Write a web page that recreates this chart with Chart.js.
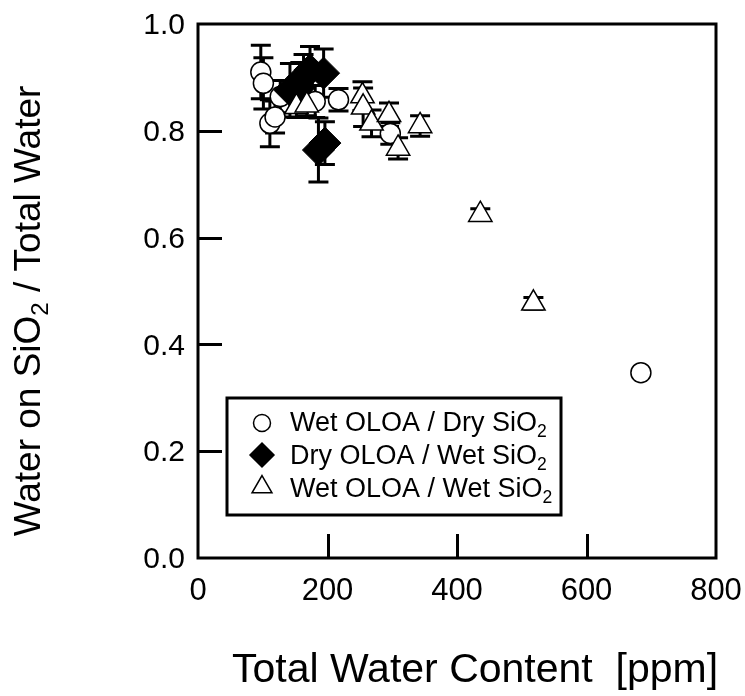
<!DOCTYPE html>
<html>
<head>
<meta charset="utf-8">
<script src="https://cdn.jsdelivr.net/npm/chart.js@4.4.0/dist/chart.umd.min.js"></script>
<style>
  html, body { margin: 0; padding: 0; background: #fff; }
  #wrap { width: 745px; height: 696px; }
</style>
</head>
<body>
<div id="wrap"><canvas id="c" width="745" height="696"></canvas></div>
<script>
// Axis ticks
const xTicks = [0, 200, 400, 600, 800];
const yTicks = [0.0, 0.2, 0.4, 0.6, 0.8, 1.0];

// Wet OLOA / Dry SiO2
const wetDryX   = [97, 101, 111, 119, 127, 181, 217, 297, 684];
const wetDryY   = [0.910, 0.889, 0.814, 0.826, 0.864, 0.855, 0.858, 0.795, 0.347];
const wetDryErr = [0.050, 0.048, 0.044, 0.030, 0.030, 0.030, 0.021, 0.020, 0.0];

// Dry OLOA / Wet SiO2
const dryWetX   = [142, 158, 163, 173, 194, 186, 196];
const dryWetY   = [0.876, 0.883, 0.901, 0.914, 0.908, 0.764, 0.777];
const dryWetErr = [0.050, 0.045, 0.042, 0.044, 0.045, 0.060, 0.040];

// Wet OLOA / Wet SiO2
const wetWetX   = [152, 168, 254, 255, 268, 295, 309, 343, 436, 518];
const wetWetY   = [0.845, 0.848, 0.865, 0.844, 0.814, 0.830, 0.767, 0.809, 0.643, 0.477];
const wetWetErr = [0.020, 0.020, 0.027, 0.036, 0.025, 0.022, 0.020, 0.019, 0.011, 0.011];

// Text
const xTitle = 'Total Water Content  [ppm]';
const yTitleParts = [['Water on SiO', false], ['2', true], [' / Total Water', false]];
const legendRows = [
  { parts: [['Wet OLOA / Dry SiO', false], ['2', true]], style: 'circle',  r: 8.5, fill: '#fff' },
  { parts: [['Dry OLOA / Wet SiO', false], ['2', true]], style: 'rectRot', r: 12,  fill: '#000' },
  { parts: [['Wet OLOA / Wet SiO', false], ['2', true]], style: 'triangle', r: 11.5, fill: '#fff' }
];

const FONT = '"Liberation Sans", Arial, Helvetica, sans-serif';

function pts(xs, ys) { return xs.map((v, i) => ({ x: v, y: ys[i] })); }

// Width of a run list where some runs are subscripts
function richWidth(ctx, parts, size) {
  let w = 0;
  parts.forEach(([t, sub]) => {
    ctx.font = (sub ? size * 0.65 : size) + 'px ' + FONT;
    w += ctx.measureText(t).width;
  });
  return w;
}
function drawRich(ctx, parts, x, y, size) {
  let cx = x;
  parts.forEach(([t, sub]) => {
    ctx.font = (sub ? size * 0.65 : size) + 'px ' + FONT;
    ctx.fillText(t, cx, sub ? y + size * 0.22 : y);
    cx += ctx.measureText(t).width;
  });
}

const framePlugin = {
  id: 'frameAndErrors',
  beforeDatasetsDraw(chart) {
    const { ctx, chartArea: a, scales: { x, y } } = chart;
    ctx.save();
    ctx.strokeStyle = '#000';
    ctx.lineWidth = 3;
    ctx.lineCap = 'butt';
    ctx.strokeRect(a.left, a.top, a.right - a.left, a.bottom - a.top);
    // inward tick marks
    ctx.beginPath();
    xTicks.slice(1, -1).forEach(v => {
      const px = Math.round(x.getPixelForValue(v)) + 0.5;
      ctx.moveTo(px, a.bottom); ctx.lineTo(px, a.bottom - 24);
    });
    yTicks.slice(1, -1).forEach(v => {
      const py = Math.round(y.getPixelForValue(v)) + 0.5;
      ctx.moveTo(a.left, py); ctx.lineTo(a.left + 24, py);
    });
    ctx.stroke();
    // error bars
    ctx.lineWidth = 3;
    chart.data.datasets.forEach(ds => {
      ds.data.forEach((p, i) => {
        const e = ds.errors[i];
        if (!e) return;
        const px = x.getPixelForValue(p.x);
        const top = y.getPixelForValue(p.y + e);
        const bot = y.getPixelForValue(p.y - e);
        ctx.beginPath();
        ctx.moveTo(px, top); ctx.lineTo(px, bot);
        ctx.moveTo(px - 10, top); ctx.lineTo(px + 10, top);
        ctx.moveTo(px - 10, bot); ctx.lineTo(px + 10, bot);
        ctx.stroke();
      });
    });
    ctx.restore();
  },
  afterDraw(chart) {
    const { ctx } = chart;
    ctx.save();
    ctx.fillStyle = '#000';
    ctx.textBaseline = 'alphabetic';
    ctx.textAlign = 'left';

    // x axis title
    const xs = 41;
    const xw = richWidth(ctx, [[xTitle, false]], xs);
    drawRich(ctx, [[xTitle, false]], 475 - xw / 2, 682, xs);

    // y axis title (rotated)
    const ys = 37;
    const yw = richWidth(ctx, yTitleParts, ys);
    ctx.save();
    ctx.translate(40, 311);
    ctx.rotate(-Math.PI / 2);
    drawRich(ctx, yTitleParts, -yw / 2, 0, ys);
    ctx.restore();

    // legend box
    const L = { x: 227, y: 398, w: 334, h: 117 };
    ctx.lineWidth = 3;
    ctx.strokeStyle = '#000';
    ctx.fillStyle = '#fff';
    ctx.fillRect(L.x, L.y, L.w, L.h);
    ctx.strokeRect(L.x, L.y, L.w, L.h);
    const rowY = [423, 455, 487];
    const baseY = [431, 464, 497];
    legendRows.forEach((row, i) => {
      ctx.fillStyle = row.fill;
      ctx.strokeStyle = '#000';
      ctx.lineWidth = 1.5;
      Chart.helpers.drawPoint(ctx, { pointStyle: row.style, radius: row.r, borderWidth: 1.5, rotation: 0 }, 262, rowY[i]);
      ctx.fillStyle = '#000';
      drawRich(ctx, row.parts, 290, baseY[i], 27);
    });
    ctx.restore();
  }
};

new Chart(document.getElementById('c'), {
  type: 'scatter',
  data: {
    datasets: [
      {
        label: 'Wet OLOA / Dry SiO2',
        data: pts(wetDryX, wetDryY), errors: wetDryErr,
        pointStyle: 'circle', pointRadius: 10,
        backgroundColor: '#fff', borderColor: '#000', borderWidth: 1.5,
        order: 2
      },
      {
        label: 'Dry OLOA / Wet SiO2',
        data: pts(dryWetX, dryWetY), errors: dryWetErr,
        pointStyle: 'rectRot', pointRadius: 16,
        backgroundColor: '#000', borderColor: '#000', borderWidth: 1,
        order: 1
      },
      {
        label: 'Wet OLOA / Wet SiO2',
        data: pts(wetWetX, wetWetY), errors: wetWetErr,
        pointStyle: 'triangle', pointRadius: 13.5,
        backgroundColor: '#fff', borderColor: '#000', borderWidth: 1.5,
        order: 0
      }
    ]
  },
  options: {
    responsive: false,
    animation: false,
    layout: { padding: { top: 24, right: 29, left: 0, bottom: 0 } },
    plugins: { legend: { display: false }, tooltip: { enabled: false } },
    scales: {
      x: {
        type: 'linear', min: 0, max: 800,
        afterBuildTicks: s => { s.ticks = xTicks.map(v => ({ value: v })); },
        afterFit: s => { s.height = 138; s.paddingLeft = 0; s.paddingRight = 0; },
        grid: { display: false, drawTicks: false },
        border: { display: false },
        ticks: { color: '#000', font: { family: FONT, size: 31 }, padding: 15, maxRotation: 0 }
      },
      y: {
        type: 'linear', min: 0, max: 1,
        afterBuildTicks: s => { s.ticks = yTicks.map(v => ({ value: v })); },
        afterFit: s => { s.width = 198; s.paddingTop = 0; s.paddingBottom = 0; },
        grid: { display: false, drawTicks: false },
        border: { display: false },
        ticks: { color: '#000', font: { family: FONT, size: 30 }, padding: 13, labelOffset: 2,
                 callback: v => Number(v).toFixed(1) }
      }
    }
  },
  plugins: [framePlugin]
});
</script>
</body>
</html>
